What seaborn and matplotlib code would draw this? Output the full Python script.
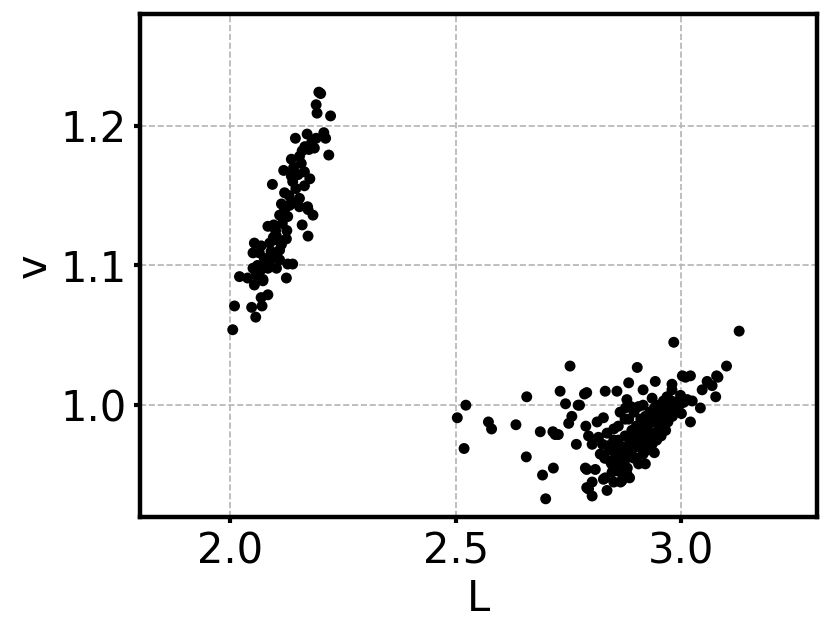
import numpy as np
import pandas as pd
import seaborn as sns
import matplotlib
matplotlib.use("Agg")
import matplotlib.pyplot as plt

# left cluster (L ~ 2.0-2.2)
L_left = [2.196, 2.200, 2.190, 2.192, 2.222, 2.170, 2.144, 2.207, 2.190, 2.211,
          2.186, 2.174, 2.159, 2.218, 2.153, 2.135, 2.157, 2.118, 2.164, 2.135,
          2.176, 2.138, 2.093, 2.164, 2.120, 2.153, 2.113, 2.131, 2.171, 2.135,
          2.153, 2.172, 2.183, 2.109, 2.127, 2.159, 2.172, 2.083, 2.096, 2.102,
          2.124, 2.053, 2.087, 2.113, 2.068, 2.050, 2.064, 2.098, 2.109, 2.087,
          2.109, 2.050, 2.068, 2.083, 2.102, 2.127, 2.138, 2.020, 2.038, 2.057,
          2.072, 2.124, 2.053, 2.072, 2.068, 2.083, 2.009, 2.047, 2.070, 2.056,
          2.005, 2.100, 2.115, 2.120, 2.130, 2.145, 2.150, 2.125, 2.090, 2.075,
          2.060, 2.105, 2.140, 2.165, 2.180, 2.095, 2.080]
v_left = [1.224, 1.223, 1.215, 1.209, 1.207, 1.194, 1.191, 1.195, 1.191, 1.191,
          1.184, 1.183, 1.182, 1.179, 1.178, 1.176, 1.173, 1.168, 1.167, 1.164,
          1.162, 1.160, 1.158, 1.157, 1.152, 1.148, 1.144, 1.143, 1.142, 1.145,
          1.142, 1.140, 1.136, 1.136, 1.135, 1.129, 1.121, 1.128, 1.129, 1.121,
          1.119, 1.116, 1.116, 1.115, 1.114, 1.109, 1.109, 1.108, 1.111, 1.103,
          1.104, 1.098, 1.097, 1.098, 1.098, 1.101, 1.101, 1.092, 1.091, 1.093,
          1.090, 1.091, 1.086, 1.089, 1.077, 1.079, 1.071, 1.070, 1.071, 1.063,
          1.054, 1.125, 1.130, 1.140, 1.150, 1.155, 1.165, 1.125, 1.110, 1.105,
          1.100, 1.118, 1.170, 1.185, 1.188, 1.120, 1.100]

# right cluster (L ~ 2.5-3.13)
L_right = [2.522, 2.503, 2.518, 2.572, 2.579, 2.633, 2.657, 2.656, 2.687, 2.715,
           2.720, 2.727, 2.692, 2.716, 2.699, 2.753, 2.731, 2.743, 2.757, 2.750,
           2.767, 2.771, 2.831, 2.857, 2.883, 2.902, 2.785, 2.790, 2.774, 2.788,
           2.813, 2.827, 2.794, 2.816, 2.802, 2.838, 2.850, 2.820, 2.790, 2.809,
           2.802, 2.794, 2.802, 2.835, 2.827, 2.846, 2.868, 2.879, 2.842, 2.857,
           2.868, 2.879, 2.876, 2.864, 2.883, 2.902, 2.915, 2.942, 2.888, 2.905,
           2.853, 2.850, 2.787, 2.873, 2.831, 2.850, 2.790,
           2.983, 3.002, 3.020, 2.979, 3.046, 3.057, 3.068, 3.078, 3.076, 3.042,
           3.020, 2.979, 2.968, 2.998, 3.013, 3.024, 2.983, 2.953, 3.128, 3.100,
           3.081, 3.009,
           2.830, 2.840, 2.845, 2.855, 2.860, 2.865, 2.870, 2.875, 2.880, 2.885,
           2.890, 2.890, 2.895, 2.900, 2.900, 2.905, 2.910, 2.910, 2.915, 2.920,
           2.920, 2.925, 2.930, 2.930, 2.935, 2.940, 2.940, 2.945, 2.950, 2.950,
           2.955, 2.960, 2.960, 2.965, 2.970, 2.970, 2.975, 2.980, 2.985, 2.990,
           2.995, 3.000, 3.005, 2.880, 2.870, 2.895, 2.915, 2.935, 2.925, 2.905,
           2.860, 2.875, 2.895, 2.915, 2.935, 2.945, 2.955, 2.965, 2.850, 2.865,
           2.885, 2.900, 2.920, 2.940, 2.825, 2.835,
           2.888, 2.898, 2.908, 2.918, 2.928, 2.938, 2.948, 2.958, 2.968, 2.978,
           2.878, 2.868, 2.858, 2.848]
v_right = [1.000, 0.991, 0.969, 0.988, 0.983, 0.986, 1.006, 0.963, 0.981, 0.981,
           0.979, 0.979, 0.950, 0.955, 0.933, 1.028, 1.010, 1.001, 0.992, 0.987,
           0.972, 1.000, 1.010, 1.010, 1.016, 1.027, 1.008, 1.009, 1.000, 0.985,
           0.988, 0.991, 0.978, 0.977, 0.972, 0.971, 0.983, 0.965, 0.954, 0.954,
           0.945, 0.940, 0.935, 0.939, 0.947, 0.952, 0.946, 0.951, 0.960, 0.957,
           0.964, 1.004, 0.998, 0.995, 0.990, 0.985, 1.011, 1.017, 0.999, 0.999,
           0.971, 0.961, 0.955, 0.951, 0.948, 0.945, 0.941,
           1.045, 1.021, 1.021, 1.015, 1.011, 1.017, 1.014, 1.021, 1.006, 0.998,
           0.988, 1.011, 1.006, 1.007, 1.004, 1.003, 0.997, 0.997, 1.053, 1.028,
           1.020, 1.020,
           0.962, 0.968, 0.958, 0.965, 0.975, 0.960, 0.970, 0.978, 0.966, 0.975,
           0.982, 0.968, 0.975, 0.985, 0.970, 0.978, 0.990, 0.972, 0.982, 0.975,
           0.992, 0.985, 0.978, 0.995, 0.988, 0.980, 0.998, 0.990, 0.984, 1.000,
           0.992, 0.986, 1.003, 0.995, 0.988, 1.005, 0.998, 0.992, 1.002, 0.996,
           1.000, 0.994, 1.002, 0.955, 0.950, 0.962, 0.965, 0.972, 0.968, 0.958,
           0.985, 0.990, 0.995, 1.000, 1.005, 0.975, 0.978, 0.982, 0.975, 0.945,
           0.948, 0.962, 0.958, 0.966, 0.972, 0.980,
           0.972, 0.980, 0.983, 0.987, 0.990, 0.993, 0.995, 0.997, 1.000, 1.003,
           0.962, 0.957, 0.953, 0.968]

df = pd.DataFrame({"L": L_left + L_right, "v": v_left + v_right})

sns.set_style("white")
plt.rcParams['font.family'] = ['DejaVu Sans']
plt.rcParams['text.color'] = 'black'
plt.rcParams['axes.labelcolor'] = 'black'
plt.rcParams['xtick.color'] = 'black'
plt.rcParams['ytick.color'] = 'black'

fig = plt.figure(figsize=(8.3, 6.32), dpi=100)
ax = fig.add_axes([0.169, 0.182, 0.815, 0.796])

sns.scatterplot(data=df, x="L", y="v", ax=ax, color="black", s=62,
                edgecolor="none", zorder=3)

ax.set_xlim(1.8, 3.3)
ax.set_ylim(0.92, 1.28)
ax.set_xticks([2.0, 2.5, 3.0])
ax.set_yticks([1.0, 1.1, 1.2])
ax.grid(True, linestyle="--", color="#b4b4b4", linewidth=1.2)
ax.set_axisbelow(True)

for sp in ax.spines.values():
    sp.set_linewidth(3.2)
    sp.set_color("black")

ax.tick_params(axis="both", labelsize=30, length=4, width=3, color="black",
               direction="out", bottom=True, left=True, pad=6)
ax.set_xlabel("L", fontsize=30, labelpad=4)
ax.set_ylabel("v", fontsize=30, labelpad=4)

fig.savefig("out.png", dpi=100)
